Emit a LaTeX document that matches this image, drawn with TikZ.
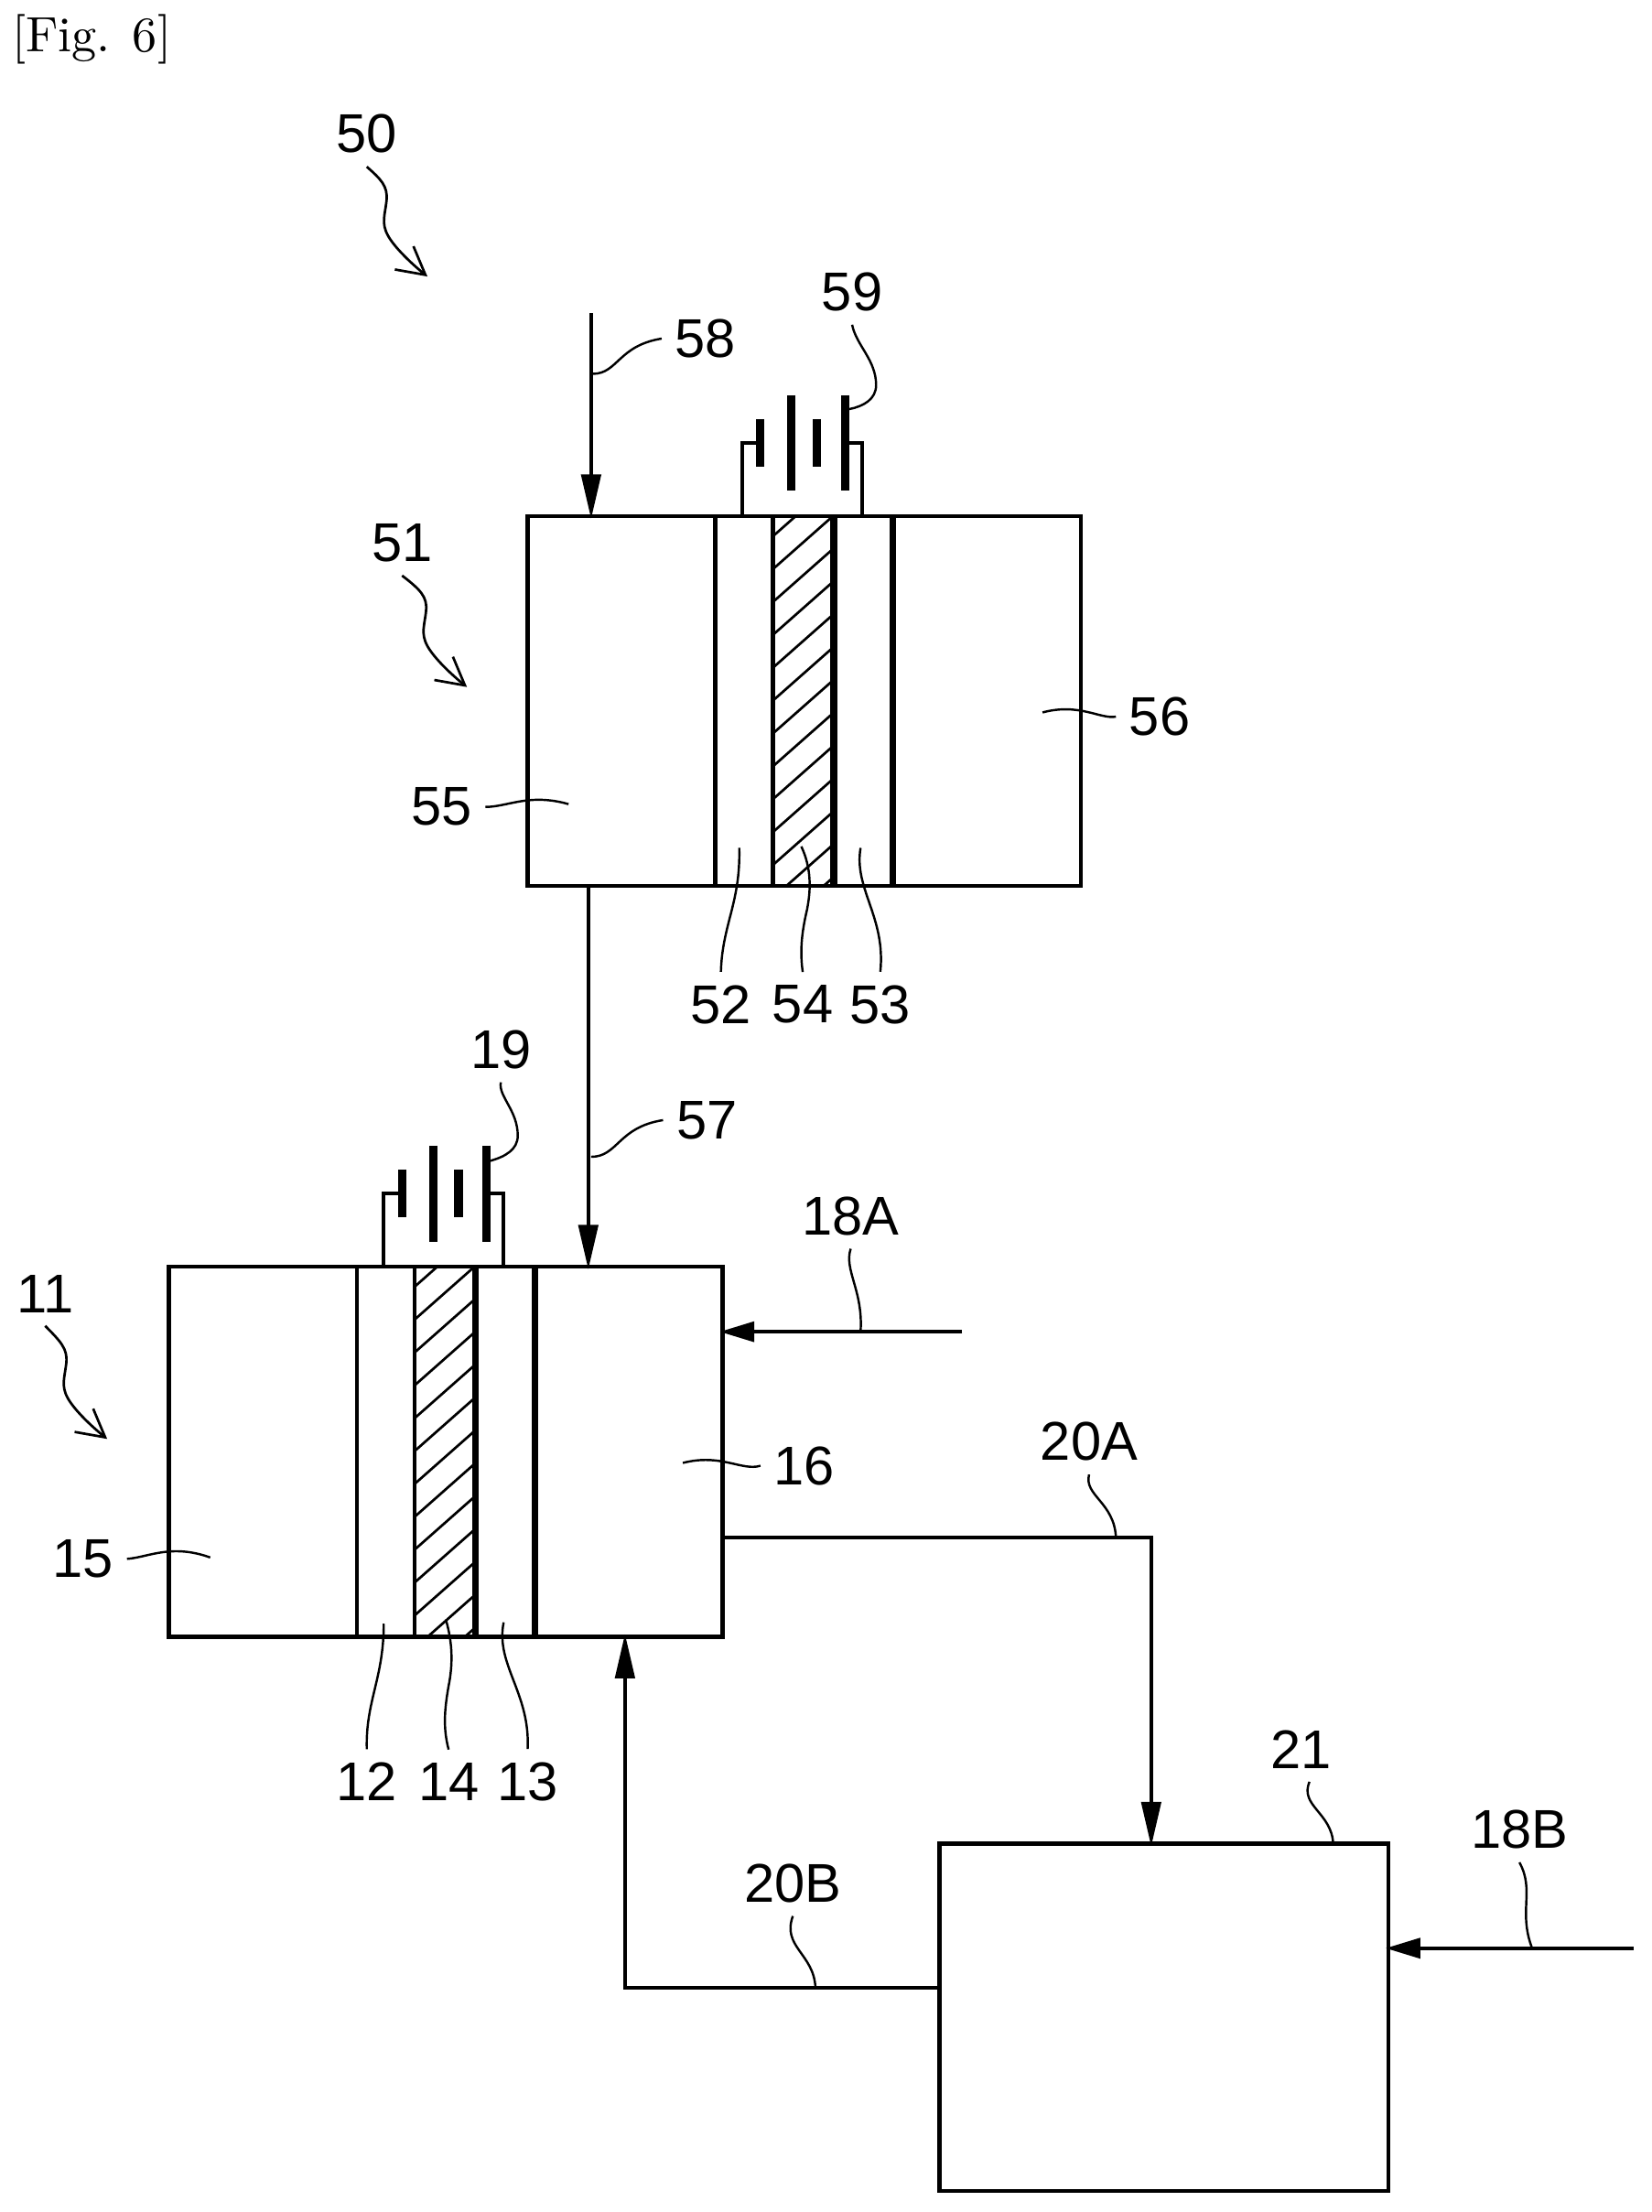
\documentclass[tikz,border=0pt]{standalone}
\usepackage{fontspec}
\usetikzlibrary{arrows.meta, positioning}
\newfontfamily\refnumfont{Liberation Sans}

\tikzset{
	cellframe/.style={draw, line width=.85pt, minimum width=3.92cm, minimum height=2.62cm, inner sep=0pt},
	thinwall/.style={line width=.85pt},
	thickwall/.style={line width=1.3pt},
	wire/.style={line width=.7pt},
	longplate/.style={line width=1.7pt},
	hatchline/.style={line width=.5pt},
	flowline/.style={line width=.8pt, shorten >=-1pt, -{Triangle[length=9pt,width=3.9pt]}},
	flowside/.style={line width=.8pt, shorten >=-1pt, -{Triangle[length=7pt,width=4pt]}},
	leader/.style={line width=.45pt},
	unitarrow/.style={line width=.5pt, -{Straight Barb[length=5.5pt,width=6pt]}},
	refnum/.style={font=\refnumfont\fontsize{11}{13}\selectfont, inner sep=2.5pt}
}

\begin{document}
\begin{tikzpicture}[x=.01cm, y=-.01cm]
	\useasboundingbox (0,0) rectangle (1170.9,1568);

	\node[inner sep=0pt] (figlabel) at (65,28) {[Fig. 6]};

	% upper unit
	\begin{scope}
		\node[cellframe] (cell51) at (570,497) {};
		\begin{scope}
			\clip (548,366) rectangle (591,628);
			\foreach \k in {0,...,12}
				\draw[hatchline] (548,{380+\k*23.3}) -- (591,{342+\k*23.3});
		\end{scope}
		\draw[thinwall] (507,366) -- (507,628);
		\draw[thinwall] (548,366) -- (548,628);
		\draw[thickwall] (591,366) -- (591,628);
		\draw[thickwall] (633,366) -- (633,628);
		\draw[wire] (526,366) -- (526,314) -- (539,314);
		\draw[wire] (599,314) -- (611,314) -- (611,366);
		\draw[longplate] (539,297) -- (539,331);
		\draw[longplate] (561,280) -- (561,348);
		\draw[longplate] (579,297) -- (579,331);
		\draw[longplate] (599,280) -- (599,348);
	\end{scope}

	% lower unit
	\begin{scope}[shift={(-254,532)}]
		\node[cellframe] (cell11) at (570,497) {};
		\begin{scope}
			\clip (548,366) rectangle (591,628);
			\foreach \k in {0,...,12}
				\draw[hatchline] (548,{380+\k*23.3}) -- (591,{342+\k*23.3});
		\end{scope}
		\draw[thinwall] (507,366) -- (507,628);
		\draw[thinwall] (548,366) -- (548,628);
		\draw[thickwall] (591,366) -- (591,628);
		\draw[thickwall] (633,366) -- (633,628);
		\draw[wire] (526,366) -- (526,314) -- (539,314);
		\draw[wire] (599,314) -- (611,314) -- (611,366);
		\draw[longplate] (539,297) -- (539,331);
		\draw[longplate] (561,280) -- (561,348);
		\draw[longplate] (579,297) -- (579,331);
		\draw[longplate] (599,280) -- (599,348);
	\end{scope}

	\node[cellframe, minimum width=3.18cm, minimum height=2.46cm] (box21) at (825,1430) {};

	% flows
	\coordinate (in58) at (419,222);
	\coordinate (tap57) at (417,760);
	\coordinate (in18A) at (682,944);
	\coordinate (bend20A) at (816,1090);
	\coordinate (in18B) at (1158,1381);
	\coordinate (bend20B) at (443,1409);
	\draw[flowline] (in58) -- (in58 |- cell51.north);
	\draw[flowline] (tap57 |- cell51.south) -- (tap57 |- cell11.north);
	\draw[flowside] (in18A) -- (in18A -| cell11.east);
	\draw[flowline] (cell11.east |- bend20A) -- (bend20A) -- (bend20A |- box21.north);
	\draw[flowside] (in18B) -- (in18B -| box21.east);
	\draw[flowline] (box21.west |- bend20B) -- (bend20B) -- (bend20B |- cell11.south);

	% reference numerals
	\node[refnum] (lb50) at (260,95) {50};
	\node[refnum] (lb51) at (285,385) {51};
	\node[refnum] (lb11) at (32,917) {11};
	\node[refnum] (lb58) at (500,240) {58};
	\node[refnum] (lb59) at (604,207) {59};
	\node[refnum] (lb56) at (822,508) {56};
	\node[refnum] (lb55) at (313,572) {55};
	\node[refnum] (lb52) at (511,712) {52};
	\node[refnum] (lb54) at (569,712) {54};
	\node[refnum] (lb53) at (624,712) {53};
	\node[refnum] (lb19) at (355,744) {19};
	\node[refnum] (lb57) at (501,794) {57};
	\node[refnum] (lb16) at (570,1039) {16};
	\node[refnum] (lb15) at (59,1105) {15};
	\node[refnum] (lb12) at (260,1263) {12};
	\node[refnum] (lb14) at (318,1263) {14};
	\node[refnum] (lb13) at (374,1263) {13};
	\node[refnum] (lb18A) at (603,862) {18A};
	\node[refnum] (lb20A) at (772,1022) {20A};
	\node[refnum] (lb21) at (922,1240) {21};
	\node[refnum] (lb18B) at (1077,1297) {18B};
	\node[refnum] (lb20B) at (562,1335) {20B};

	% leader ends
	\coordinate (to50) at (303,196);
	\coordinate (to51) at (331,487);
	\coordinate (to11) at (76,1020);
	\coordinate (to58) at (420,265);
	\coordinate (to59) at (602,290);
	\coordinate (to56) at (739,505);
	\coordinate (to55) at (403,570);
	\coordinate (to52) at (524,601);
	\coordinate (to54) at (568,600);
	\coordinate (to53) at (610,601);
	\coordinate (to19) at (347,823);
	\coordinate (to57) at (419,820);
	\coordinate (to16) at (484,1037);
	\coordinate (to15) at (149,1104);
	\coordinate (to12) at (272,1151);
	\coordinate (to14) at (316,1148);
	\coordinate (to13) at (357,1150);
	\coordinate (to18A) at (610,944);
	\coordinate (to20A) at (791,1090);
	\coordinate (to21) at (945,1307);
	\coordinate (to18B) at (1086,1381);
	\coordinate (to20B) at (578,1409);

	\draw[unitarrow] (lb50.south) .. controls (270,127) and (275,132) .. (274,142) .. controls (273,152) and (270,158) .. (275,167) .. controls (280,176) and (293,188) .. (to50);
	\draw[unitarrow] (lb51.south) .. controls (298,418) and (303,423) .. (302,433) .. controls (301,443) and (298,449) .. (303,458) .. controls (308,467) and (321,479) .. (to51);
	\draw[unitarrow] (lb11.south) .. controls (43,951) and (48,956) .. (47,966) .. controls (46,976) and (43,982) .. (48,991) .. controls (53,1000) and (66,1012) .. (to11);

	\draw[leader] (lb58.west) .. controls (438,245) and (438,265) .. (to58);
	\draw[leader] (lb59.south) .. controls (607,245) and (621,255) .. (621,273) .. controls (621,283) and (612,288) .. (to59);
	\draw[leader] (lb56.west) .. controls (780,510) and (765,498) .. (to56);
	\draw[leader] (lb55.east) .. controls (360,572) and (375,562) .. (to55);
	\draw[leader] (lb52.north) .. controls (512,655) and (525,640) .. (to52);
	\draw[leader] (lb54.north) .. controls (567,675) and (568,662) .. (572,645) .. controls (575,630) and (575,615) .. (to54);
	\draw[leader] (lb53.north) .. controls (628,650) and (605,630) .. (to53);
	\draw[leader] (lb19.south) .. controls (353,777) and (367,787) .. (367,805) .. controls (367,815) and (358,820) .. (to19);
	\draw[leader] (lb57.west) .. controls (438,799) and (438,820) .. (to57);
	\draw[leader] (lb16.west) .. controls (526,1043) and (511,1030) .. (to16);
	\draw[leader] (lb15.east) .. controls (105,1104) and (121,1094) .. (to15);
	\draw[leader] (lb12.north) .. controls (259,1206) and (272,1190) .. (to12);
	\draw[leader] (lb14.north) .. controls (314,1225) and (315,1212) .. (318,1195) .. controls (321,1180) and (321,1165) .. (to14);
	\draw[leader] (lb13.north) .. controls (376,1200) and (351,1180) .. (to13);
	\draw[leader] (lb18A.south) .. controls (598,900) and (612,915) .. (to18A);
	\draw[leader] (lb20A.south) .. controls (768,1060) and (790,1065) .. (to20A);
	\draw[leader] (lb21.-75) .. controls (921,1280) and (944,1285) .. (to21);
	\draw[leader] (lb18B.south) .. controls (1088,1340) and (1076,1355) .. (to18B);
	\draw[leader] (lb20B.south) .. controls (554,1380) and (577,1385) .. (to20B);
\end{tikzpicture}
\end{document}
